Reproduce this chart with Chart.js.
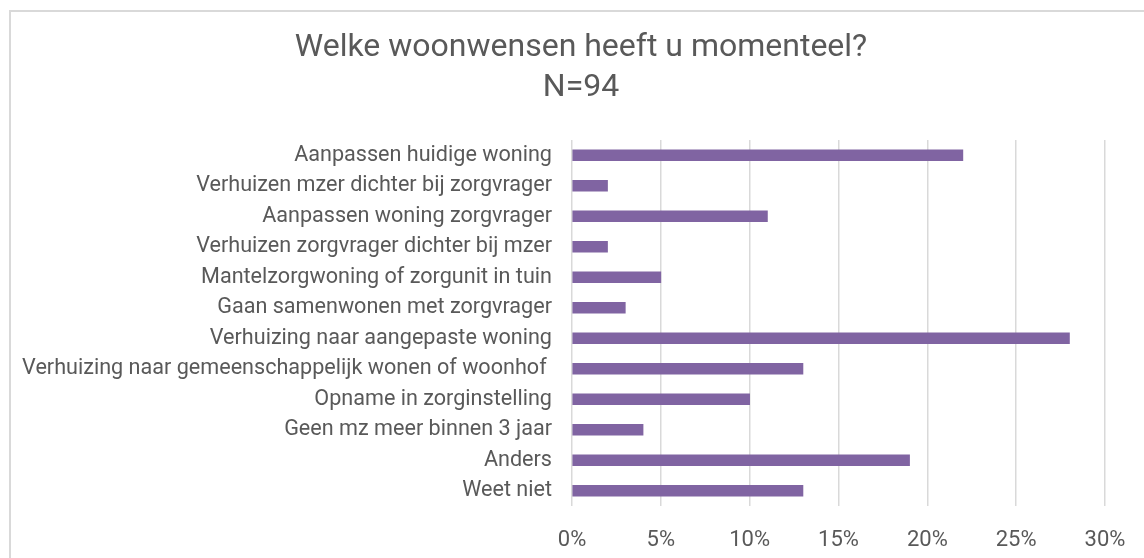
<!DOCTYPE html>
<html>
<head>
<meta charset="utf-8">
<script src="https://cdn.jsdelivr.net/npm/chart.js@4"></script>
<style>
  html, body { margin: 0; padding: 0; background: #fff; overflow: hidden; }
  #frame {
    position: absolute; left: 9px; top: 10px;
    width: 1140px; height: 548px;
    border: 2px solid #d9d9d9; border-right: none; border-bottom: none;
  }
</style>
</head>
<body>
<div id="frame"><canvas id="myChart" width="1140" height="548"></canvas></div>
<script>
// categories (top to bottom)
const categories = [
  "Aanpassen huidige woning",
  "Verhuizen mzer dichter bij zorgvrager",
  "Aanpassen woning zorgvrager",
  "Verhuizen zorgvrager dichter bij mzer",
  "Mantelzorgwoning of zorgunit in tuin",
  "Gaan samenwonen met zorgvrager",
  "Verhuizing naar aangepaste woning",
  "Verhuizing naar gemeenschappelijk wonen of woonhof ",
  "Opname in zorginstelling",
  "Geen mz meer binnen 3 jaar",
  "Anders",
  "Weet niet"
];
// percentage of respondents
const percentages = [22, 2, 11, 2, 5, 3, 28, 13, 10, 4, 19, 13];
const titleLines = ["Welke woonwensen heeft u momenteel?", "N=94"];

const textColor = '#595959';
const gridColor = '#d9d9d9';

const ctx = document.getElementById("myChart").getContext('2d');
const myChart = new Chart(ctx, {
  type: 'bar',
  data: {
    labels: categories,
    datasets: [{
      label: 'Woonwensen',
      data: percentages,
      backgroundColor: '#8064A2',
      borderWidth: 0,
      barThickness: 11
    }]
  },
  options: {
    indexAxis: 'y',
    responsive: false,
    animation: false,
    layout: { padding: 0 },
    plugins: {
      legend: { display: false },
      tooltip: { enabled: false },
      title: {
        display: true,
        text: titleLines,
        color: textColor,
        font: { family: 'Roboto', size: 32, weight: 'normal', lineHeight: 1.25 },
        padding: { top: 16, bottom: 32 }
      }
    },
    scales: {
      x: {
        min: 0,
        max: 30,
        ticks: {
          stepSize: 5,
          color: textColor,
          padding: 21,
          font: { family: 'Roboto', size: 22 },
          callback: (v) => v + '%'
        },
        grid: { color: gridColor, lineWidth: 1.5, drawTicks: false },
        border: { display: false },
        afterFit: (scale) => { scale.height = 54; }
      },
      y: {
        ticks: {
          color: textColor,
          padding: 20,
          font: { family: 'Roboto', size: 21.6 }
        },
        grid: { display: false, drawTicks: false },
        border: { display: false },
        afterFit: (scale) => { scale.width = 561; }
      },
      // empty spacer on the right so the title stays centred on the full width
      spacer: {
        type: 'category',
        axis: 'y',
        position: 'right',
        ticks: { display: false },
        grid: { display: false, drawTicks: false },
        border: { display: false },
        afterFit: (scale) => { scale.width = 46; }
      }
    }
  }
});
</script>
</body>
</html>
